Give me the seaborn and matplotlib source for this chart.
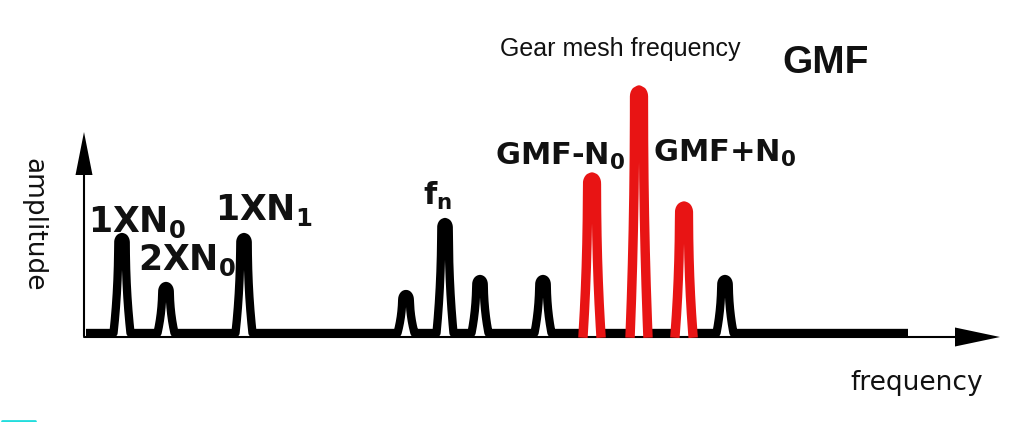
import numpy as np
import pandas as pd
import seaborn as sns
import matplotlib.pyplot as plt

# peak positions (frequency, px along the axis) and heights (amplitude, px above baseline)
black_freq = [122, 166, 244, 406, 445, 480, 543, 725]
black_amp = [96, 47, 96, 39, 111, 54, 54, 54]
red_freq = [592, 639, 684]
red_amp = [156, 243, 127]
base_start, base_end = 86, 908

labels = [r'1XN$_\mathbf{0}$', r'2XN$_\mathbf{0}$', r'1XN$_\mathbf{1}$', r'f$_\mathbf{n}$',
          r'GMF-N$_\mathbf{0}$', r'GMF+N$_\mathbf{0}$']
label_xy = [(88, 101), (138, 63), (215, 113), (423, 128), (495, 168), (653, 171)]
label_size = [25, 25, 25, 22, 22, 22]


def peak(c, h, r_top, r_base):
    # centreline of one arch: left foot -> rounded top -> right foot
    y = np.linspace(0, h, 150)
    s = y / h
    hw = r_top + (r_base - r_top) * (1 - s) ** 2.2
    cap = 1.5 * r_top
    m = y > h - cap
    hw[m] = hw[m] * np.sqrt(np.clip(1 - ((y[m] - (h - cap)) / cap) ** 2, 0, 1))
    xs = np.concatenate([c - hw, (c + hw)[::-1]])
    ys = np.concatenate([y, y[::-1]])
    return xs, ys


# black trace: baseline + black peaks, broken under the red peaks
rows = []
red_rows = []
seg = 0
all_peaks = sorted([(f, a, 'k') for f, a in zip(black_freq, black_amp)] +
                   [(f, a, 'r') for f, a in zip(red_freq, red_amp)])
cur = [(base_start, 0)]
for i, (f, a, col) in enumerate(all_peaks):
    if col == 'k':
        xs, ys = peak(f, a, 3.7, 8.5)
        cur += list(zip(xs, ys))
    else:
        xs, ys = peak(f, a, 4.4, 8.8)
        cur.append((xs[0], 0))
        rows += [(x, y, seg) for x, y in cur]
        seg += 1
        cur = [(xs[-1], 0)]
        red_rows += [(x, y, i) for x, y in zip(xs, ys)]
cur.append((base_end, 0))
rows += [(x, y, seg) for x, y in cur]

df_black = pd.DataFrame(rows, columns=['frequency', 'amplitude', 'seg'])
df_red = pd.DataFrame(red_rows, columns=['frequency', 'amplitude', 'seg'])

sns.set_theme(style='white')
fig = plt.figure(figsize=(10.2, 4.22), dpi=100)
ax = fig.add_axes([0, 0, 1, 1])

# thin axes with arrow heads
ax.plot([84, 84], [-3, 160], color='black', lw=1.5)
ax.fill([75.5, 92.5, 84], [158, 158, 201], color='black', lw=0)
ax.plot([84, 958], [-4, -4], color='black', lw=1.5)
ax.fill([955, 955, 1000], [5.5, -13.5, -4], color='black', lw=0)

sns.lineplot(data=df_black, x='frequency', y='amplitude', units='seg', estimator=None,
             sort=False, color='black', lw=6.0, solid_capstyle='butt',
             solid_joinstyle='round', ax=ax, legend=False)
sns.lineplot(data=df_red, x='frequency', y='amplitude', units='seg', estimator=None,
             sort=False, color='#e81414', lw=6.8, solid_capstyle='projecting',
             solid_joinstyle='round', ax=ax, legend=False)
ax.set_xlim(0, 1020)
ax.set_ylim(-89, 333)
ax.axis('off')

for lab, (x, y), s in zip(labels, label_xy, label_size):
    ax.text(x, y, lab, fontsize=s, fontweight='bold', ha='left', va='baseline', color='#111111')

ax.text(500, 277, 'Gear mesh frequency', fontsize=18, family='Liberation Sans',
        ha='left', va='baseline', color='#111111')
ax.text(782, 260, 'GMF', fontsize=28, family='Liberation Sans', fontweight='bold',
        ha='left', va='baseline', color='#111111')
ax.text(33, 108, 'amplitude', fontsize=19, rotation=-90, ha='center', va='center',
        color='#111111')
ax.text(850, -57, 'frequency', fontsize=19, ha='left', va='baseline', color='#111111')

# small cyan mark in the lower left corner
ax.plot([2, 35], [-88, -88], color='#22dddd', lw=2)

fig.savefig('out.png', dpi=100, facecolor='white')
